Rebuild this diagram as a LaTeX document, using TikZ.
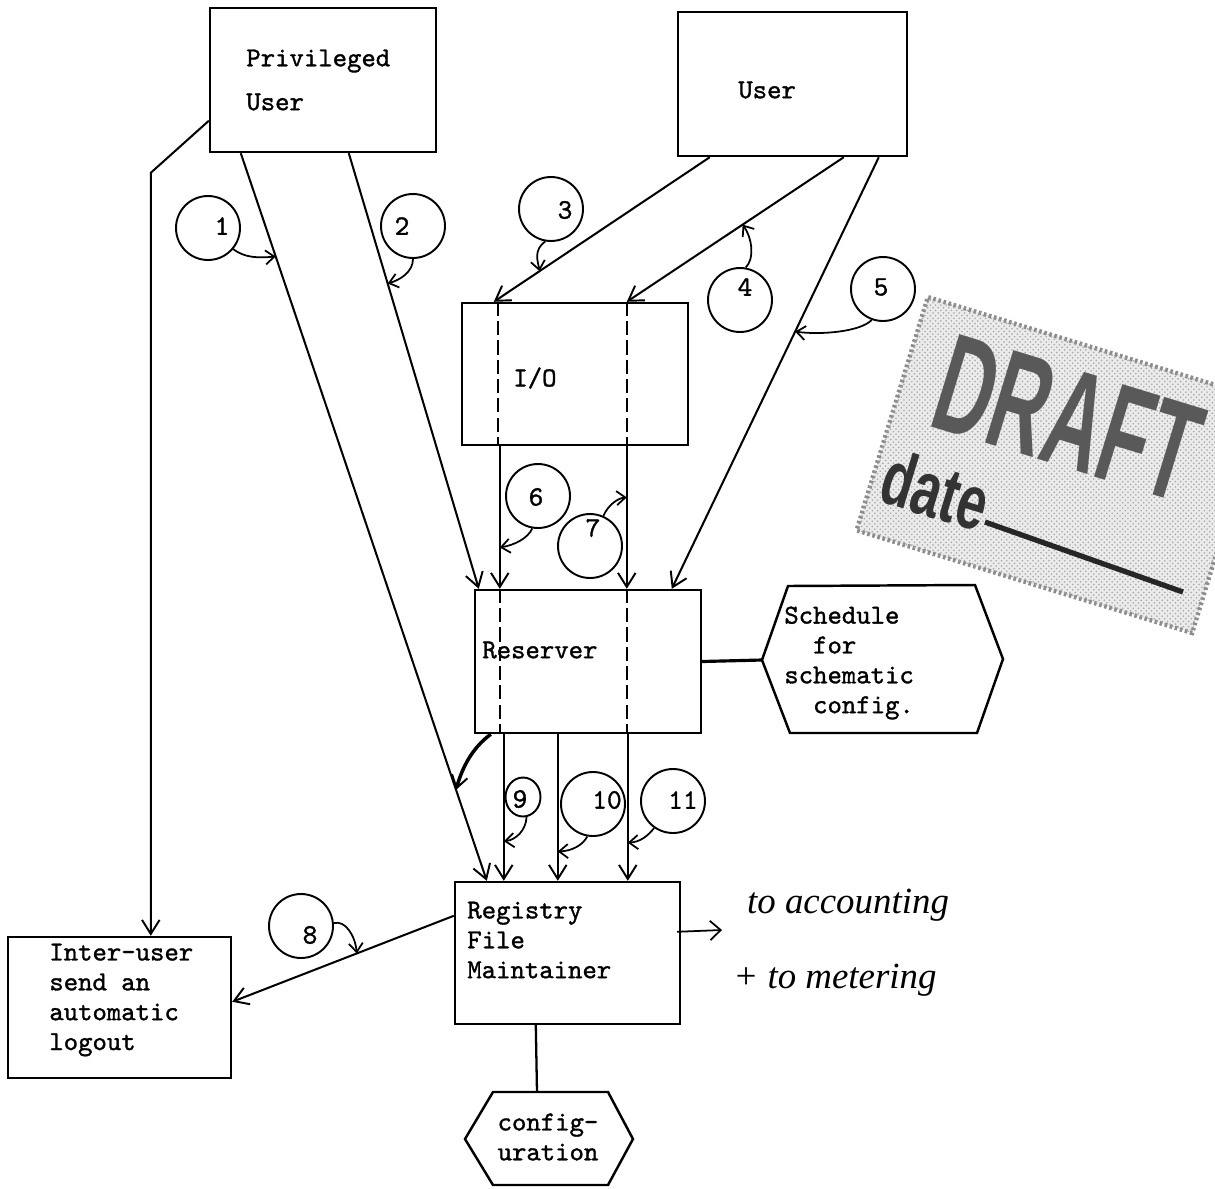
\documentclass[tikz,border=0pt]{standalone}
\usepackage{fontspec}
\usepackage{graphicx}
\newfontfamily\tw{lmmono10-regular.otf}[FakeBold=1.2]
\newfontfamily\stampfont{Liberation Sans}
\newfontfamily\handfont{Liberation Serif}
\usetikzlibrary{arrows.meta,calc,shapes.geometric,patterns}
\begin{document}
\begin{tikzpicture}[x=0.02cm,y=-0.02cm,
  box/.style={draw, line width=1.4pt, inner sep=0pt},
  txt/.style={font=\fontsize{15.6}{17}\selectfont\tw, inner sep=0pt, align=left, anchor=west},
  conn/.style={line width=1.15pt},
  arr/.style={conn, -{Straight Barb[length=8pt,width=10pt,line width=1.1pt]}},
  dashcol/.style={line width=1.1pt, dash pattern=on 8pt off 3pt},
  num/.style={draw, circle, line width=1.1pt, minimum size=1.28cm, inner sep=0pt},
  numtxt/.style={font=\fontsize{16}{16}\selectfont\tw, inner sep=0pt},
  pointer/.style={line width=1pt, -{Straight Barb[length=5pt,width=8pt,line width=1pt]}},
  stampbox/.style={rotate=-17, minimum width=7.02cm, minimum height=4.88cm, inner sep=0pt},
  hand/.style={font=\handfont\itshape\fontsize{21}{21}\selectfont, inner sep=0pt},
]
\useasboundingbox (0,0) rectangle (1215,1188);
\clip (0,0) rectangle (1215,1188);

% ---------- DRAFT stamp ----------
\node[stampbox, fill=black!8, draw=black!45, line width=2.5pt, dash pattern=on 1.5pt off 1.5pt] (stamp) at (1060,465) {};
\node[stampbox, pattern=crosshatch dots, pattern color=black!35] (stamptex) at (1060,465) {};
\node[rotate=-17, text=black!65, inner sep=0pt] (draftword) at (1068,418)
  {\stampfont\bfseries\fontsize{80}{80}\selectfont\scalebox{0.56}[1]{DRAFT}};
\node[rotate=-17, text=black!80, inner sep=0pt] (dateword) at (936,490)
  {\stampfont\bfseries\fontsize{44}{44}\selectfont\scalebox{0.68}[1]{date}};
\draw[line width=3pt, black!85] (985,522) -- (1183,592);

% ---------- boxes ----------
\node[box, minimum width=4.52cm, minimum height=2.88cm] (pu) at (323,80) {};
\node[txt, font=\fontsize{15.6}{25}\selectfont\tw] (putxt) at (246,80) {Privileged\\User};
\node[box, minimum width=4.58cm, minimum height=2.88cm] (usr) at (792.5,84) {};
\node[txt] (usrtxt) at (738,90) {User};
\node[box, minimum width=4.52cm, minimum height=2.84cm] (io) at (575,374) {};
\node[txt] (iotxt) at (513,378) {I/O};
\node[box, minimum width=4.52cm, minimum height=2.86cm] (res) at (588,661.5) {};
\node[txt] (restxt) at (482,650) {Reserver};
\node[box, minimum width=4.5cm, minimum height=2.84cm] (reg) at (567.5,953) {};
\node[txt] (regtxt) at (467,940) {Registry\\File\\Maintainer};
\node[box, minimum width=4.46cm, minimum height=2.82cm] (iu) at (119.5,1007.5) {};
\node[txt] (iutxt) at (49,1000) {Inter-user\\send an\\automatic\\logout};

% hexagons
\draw[line width=1.4pt] (762,660) coordinate (schL) -- (788,586) -- (975,585) -- (1003,659) -- (977,733) -- (790,733) -- cycle;
\node[txt] (schedtxt) at (784,663) {Schedule\\\phantom{xx}for\\schematic\\\phantom{xx}config.};
\draw[line width=1.4pt] (465,1139) -- (493,1092) coordinate (cfgTL) -- (608,1092) -- (633,1139) -- (608,1185) -- (493,1185) -- cycle;
\coordinate (cfgT) at (537,1092);
\node[txt, anchor=center, align=center] (cfgtxt) at (548,1137) {config-\\uration};

% ---------- connectors ----------
\draw[arr] ($(pu.north west)+(0,114)$) -- ++(-58,52) -- ($(iu.north west)+(144,0)$);

\coordinate (l1a) at ($(pu.south west)+(32,0)$);
\coordinate (l1b) at ($(reg.north west)+(33,0)$);
\draw[arr] (l1a) -- (l1b);

\coordinate (l2a) at ($(pu.south west)+(140,0)$);
\coordinate (l2b) at ($(res.north west)+(5,0)$);
\draw[arr] (l2a) -- (l2b);

\coordinate (l3a) at ($(usr.south west)+(33,0)$);
\coordinate (l3b) at ($(io.north west)+(33,0)$);
\draw[arr] (l3a) -- (l3b);

\coordinate (l4a) at ($(usr.south west)+(167,0)$);
\coordinate (l4b) at ($(io.north west)+(166,0)$);
\draw[arr] (l4a) -- (l4b);

\coordinate (l5a) at ($(usr.south west)+(202,0)$);
\coordinate (l5b) at ($(res.north west)+(198,0)$);
\draw[arr] (l5a) -- (l5b);

% dashed columns
\draw[dashcol] ($(io.north west)+(37,0)$) -- ($(io.south west)+(37,0)$);
\draw[dashcol] ($(io.north west)+(166,0)$) -- ($(io.south west)+(166,0)$);
\draw[dashcol] ($(res.north west)+(26,0)$) -- ($(res.south west)+(26,0)$);
\draw[dashcol] ($(res.north west)+(153,0)$) -- ($(res.south west)+(153,0)$);

% I/O -> Reserver
\coordinate (l6a) at ($(io.south west)+(39,0)$);
\coordinate (l6b) at ($(res.north west)+(26,0)$);
\draw[arr] (l6a) -- (l6b);
\coordinate (l7a) at ($(io.south west)+(166,0)$);
\coordinate (l7b) at ($(res.north west)+(153,0)$);
\draw[arr] (l7a) -- (l7b);

% Reserver -> Registry
\coordinate (l9a) at ($(res.south west)+(30,0)$);
\coordinate (l9b) at ($(reg.north west)+(50,0)$);
\draw[arr] (l9a) -- (l9b);
\coordinate (l10a) at ($(res.south west)+(84,0)$);
\coordinate (l10b) at ($(reg.north west)+(104,0)$);
\draw[arr] (l10a) -- (l10b);
\coordinate (l11a) at ($(res.south west)+(154,0)$);
\coordinate (l11b) at ($(reg.north west)+(174,0)$);
\draw[arr] (l11a) -- (l11b);

% thick curved arrow Reserver -> line 1
\coordinate (tc) at ($(l1a)!0.875!(l1b)$);
\draw[line width=2pt, -{Straight Barb[length=7pt,width=9pt,line width=1.1pt]}]
  ($(res.south west)+(17,0)$) .. controls (472,748) and (462,768) .. (tc);

% Registry -> Inter-user
\coordinate (l8a) at ($(reg.north west)+(0,35)$);
\coordinate (l8b) at ($(iu.north east)+(0,66)$);
\draw[arr] (l8a) -- (l8b);

% Reserver -- Schedule, Registry -- configuration
\draw[line width=1.8pt] (res.east) -- (schL);
\draw[line width=1.3pt] ($(reg.south west)+(82,0)$) -- (cfgT);

% handwritten note
\coordinate (handend) at (722,930);
\draw[line width=1pt, -{Straight Barb[length=6pt,width=11pt,line width=1pt]}] ($(reg.north east)+(-4,51)$) -- (handend);
\node[hand] (acc) at (848,905) {to accounting};
\node[hand] (met) at (835,980) {+ to metering};

% ---------- numbered circles ----------
\node[num] (c1) at (208,228) {};  \node[numtxt] (n1) at (222,226) {1};
\node[num] (c2) at (413,226) {};  \node[numtxt] (n2) at (402,226) {2};
\node[num] (c3) at (551,209) {};  \node[numtxt] (n3) at (565,210) {3};
\node[num] (c4) at (740,300) {};  \node[numtxt] (n4) at (745,287) {4};
\node[num] (c5) at (883,289) {};  \node[numtxt] (n5) at (881,287) {5};
\node[num] (c6) at (538,496) {};  \node[numtxt] (n6) at (536,497) {6};
\node[num] (c7) at (590,546) {};  \node[numtxt] (n7) at (593,528) {7};
\node[draw, ellipse, line width=1.1pt, minimum width=0.7cm, minimum height=0.78cm, inner sep=0pt] (c9) at (523,797) {};
\node[numtxt] (n9) at (520,799) {9};
\node[num] (c10) at (593,804) {}; \node[numtxt] (n10) at (607,800) {10};
\node[num] (c11) at (673,801) {}; \node[numtxt] (n11) at (683,800) {11};
\node[num] (c8) at (301,926) {};  \node[numtxt] (n8) at (310,935) {8};

% pointers from circles
\draw[pointer] (c1.-40) .. controls (245,258) and (258,258) .. ($(l1a)!0.142!(l1b)$);
\draw[pointer] (c2.-90) .. controls (413,272) and (400,280) .. ($(l2a)!0.299!(l2b)$);
\draw[pointer] (c3.-100) .. controls (533,250) and (538,262) .. ($(l3a)!0.788!(l3b)$);
\draw[pointer] (c4.80) .. controls (755,258) and (752,238) .. ($(l4a)!0.466!(l4b)$);
\draw[pointer] (c5.-110) .. controls (860,332) and (820,335) .. ($(l5a)!0.404!(l5b)$);
\draw[pointer] (c6.-100) .. controls (528,538) and (515,545) .. ($(l6a)!0.71!(l6b)$);
\draw[pointer] (c7.66) .. controls (608,505) and (618,498) .. ($(l7a)!0.359!(l7b)$);
\draw[pointer] (c9.-80) .. controls (526,830) and (516,840) .. ($(l9a)!0.73!(l9b)$);
\draw[pointer] (c10.-100) .. controls (583,845) and (572,851) .. ($(l10a)!0.8!(l10b)$);
\draw[pointer] (c11.-125) .. controls (648,836) and (640,842) .. ($(l11a)!0.74!(l11b)$);
\draw[pointer] (c8.5) .. controls (345,920) and (355,935) .. ($(l8a)!0.4375!(l8b)$);
\end{tikzpicture}
\end{document}
